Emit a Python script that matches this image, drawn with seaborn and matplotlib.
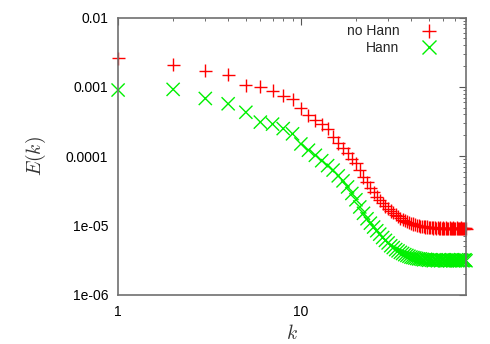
import matplotlib
matplotlib.use("Agg")
import matplotlib.pyplot as plt
import pandas as pd
import seaborn as sns
from matplotlib.ticker import FixedLocator, LogLocator, NullFormatter

# wavenumbers k = 1..80
k = list(range(1, 81))

# energy spectrum without window
e_no_hann = [
    2.6e-3, 2.1e-3, 1.7e-3, 1.5e-3, 1.05e-3, 1.0e-3, 8.8e-4, 7.5e-4, 6.6e-4, 4.9e-4,
    3.9e-4, 3.3e-4, 2.9e-4, 2.5e-4, 1.9e-4, 1.55e-4, 1.3e-4, 1.1e-4, 9.2e-5, 7.9e-5,
    6.3e-5, 5.0e-5, 4.2e-5, 3.5e-5, 3.0e-5, 2.6e-5, 2.3e-5, 2.1e-5, 1.9e-5, 1.75e-5,
    1.62e-5, 1.52e-5, 1.43e-5, 1.35e-5, 1.27e-5, 1.22e-5, 1.17e-5, 1.13e-5, 1.1e-5, 1.07e-5,
    1.05e-5, 1.03e-5, 1.01e-5, 9.9e-6, 9.8e-6, 9.7e-6, 9.6e-6, 9.5e-6, 9.5e-6, 9.4e-6,
    9.3e-6, 9.4e-6, 9.2e-6, 9.3e-6, 9.1e-6, 9.3e-6, 9.0e-6, 9.2e-6, 9.1e-6, 9.2e-6,
    9.0e-6, 9.2e-6, 9.1e-6, 9.0e-6, 9.2e-6, 9.1e-6, 9.0e-6, 9.2e-6, 9.0e-6, 9.1e-6,
    9.2e-6, 9.0e-6, 9.1e-6, 9.0e-6, 9.2e-6, 9.1e-6, 9.0e-6, 9.1e-6, 9.1e-6, 9.0e-6,
]

# energy spectrum with Hann window
e_hann = [
    9.0e-4, 9.2e-4, 6.8e-4, 5.7e-4, 4.3e-4, 3.1e-4, 2.9e-4, 2.5e-4, 2.1e-4, 1.5e-4,
    1.22e-4, 1.03e-4, 8.6e-5, 7.3e-5, 6.3e-5, 5.2e-5, 4.4e-5, 3.6e-5, 2.9e-5, 2.35e-5,
    1.85e-5, 1.5e-5, 1.25e-5, 1.08e-5, 9.5e-6, 8.4e-6, 7.5e-6, 6.7e-6, 6.1e-6, 5.6e-6,
    5.1e-6, 4.8e-6, 4.5e-6, 4.3e-6, 4.1e-6, 3.95e-6, 3.8e-6, 3.7e-6, 3.6e-6, 3.5e-6,
    3.45e-6, 3.4e-6, 3.35e-6, 3.3e-6, 3.3e-6, 3.25e-6, 3.2e-6, 3.25e-6, 3.2e-6, 3.15e-6,
    3.2e-6, 3.15e-6, 3.1e-6, 3.2e-6, 3.15e-6, 3.1e-6, 3.2e-6, 3.1e-6, 3.15e-6, 3.2e-6,
    3.1e-6, 3.15e-6, 3.1e-6, 3.2e-6, 3.1e-6, 3.15e-6, 3.2e-6, 3.1e-6, 3.15e-6, 3.1e-6,
    3.2e-6, 3.1e-6, 3.15e-6, 3.1e-6, 3.2e-6, 3.15e-6, 3.1e-6, 3.15e-6, 3.2e-6, 3.1e-6,
]

series = ["no Hann", "Hann"]
colors = {"no Hann": "#ff0000", "Hann": "#00f000"}
markers = {"no Hann": "+", "Hann": "x"}

y_ticks = [1e-2, 1e-3, 1e-4, 1e-5, 1e-6]
y_labels = ["0.01", "0.001", "0.0001", "1e-05", "1e-06"]
x_ticks = [1, 10]
x_labels = ["1", "10"]

df = pd.DataFrame({
    "k": k + k,
    "E": e_no_hann + e_hann,
    "series": ["no Hann"] * len(k) + ["Hann"] * len(k),
})

sns.set_style("white")
plt.rcParams["font.family"] = ["Liberation Sans", "DejaVu Sans"]
plt.rcParams["mathtext.fontset"] = "cm"

fig = plt.figure(figsize=(4.9, 3.44), dpi=100)
ax = fig.add_axes([0.241, 0.143, 0.71, 0.806])

sns.scatterplot(data=df, x="k", y="E", hue="series", style="series",
                hue_order=series, style_order=series,
                palette=colors, markers=markers, s=90, linewidth=1.0,
                ax=ax, legend=True)
# markers at the frame edges are not clipped in the original
for coll in ax.collections:
    coll.set_clip_on(False)

ax.set_xscale("log")
ax.set_yscale("log")
ax.set_xlim(1, 80)
ax.set_ylim(1e-6, 1e-2)

ax.xaxis.set_major_locator(FixedLocator(x_ticks))
ax.set_xticklabels(x_labels)
ax.yaxis.set_major_locator(FixedLocator(y_ticks))
ax.set_yticklabels(y_labels)
ax.xaxis.set_minor_locator(LogLocator(base=10, subs=range(2, 10)))
ax.yaxis.set_minor_locator(LogLocator(base=10, subs=range(2, 10)))
ax.xaxis.set_minor_formatter(NullFormatter())
ax.yaxis.set_minor_formatter(NullFormatter())

ax.tick_params(which="both", direction="in", top=True, right=True,
               color="#555555", labelsize=10, labelcolor="black")
ax.tick_params(which="major", length=5, width=0.8)
ax.tick_params(which="minor", length=2.5, width=0.6)
ax.tick_params(axis="x", pad=7)
ax.tick_params(axis="y", pad=7)

for sp in ax.spines.values():
    sp.set_color("#707070")
    sp.set_linewidth(1.2)

ax.set_xlabel("$k$", fontsize=14, color="#333333", labelpad=4)
ax.set_ylabel("$E(k)$", fontsize=14, color="#333333", labelpad=13)

handles, labels = ax.get_legend_handles_labels()
leg = ax.legend(handles, labels, loc="upper right", frameon=False,
                markerfirst=False, fontsize=10, handlelength=1.5,
                handletextpad=1.37, labelspacing=0.15,
                bbox_to_anchor=(0.943, 1.0), borderaxespad=0.1)
for col in leg._legend_handle_box.get_children():
    col.align = "right"

fig.savefig("out.png", dpi=100)
